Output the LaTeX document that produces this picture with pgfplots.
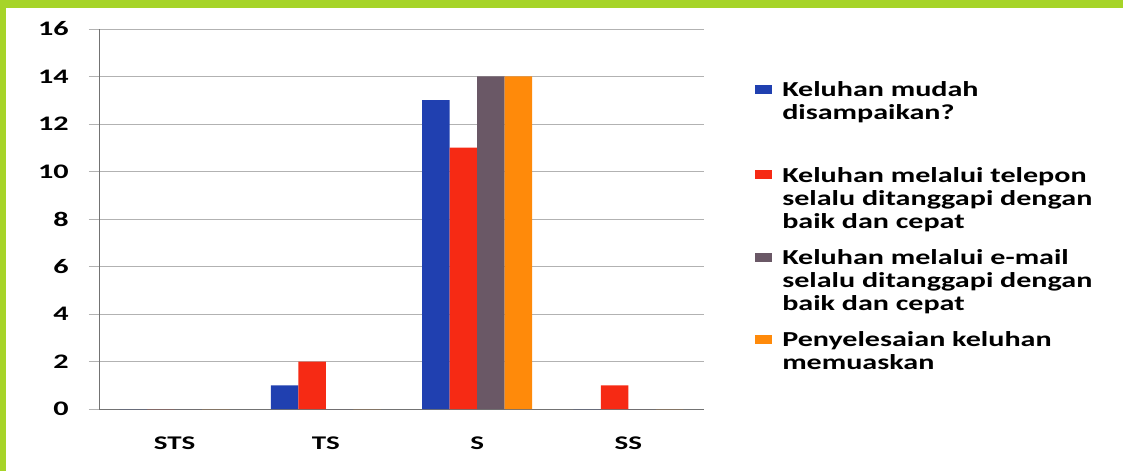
\documentclass[border=0pt]{standalone}
\usepackage{pgfplots}
\pgfplotsset{compat=1.18}
\usepackage{fontspec}
\setmainfont{Carlito}[FakeStretch=1.41]
\newfontfamily\yfont{Carlito}[FakeStretch=1.46]
\newfontfamily\xfont{Carlito}[FakeStretch=1.5]

\definecolor{frame}{RGB}{166,212,40}
\definecolor{cblue}{RGB}{32,64,176}
\definecolor{cred}{RGB}{246,42,20}
\definecolor{cgrey}{RGB}{106,88,102}
\definecolor{corange}{RGB}{255,138,10}
\definecolor{gridc}{RGB}{178,178,178}

\begin{document}
\begin{tikzpicture}
  % page: green frame with a white panel
  \useasboundingbox (0,0) rectangle (842.25pt,353.25pt);
  \fill[frame] (0,0) rectangle (842.25pt,353.25pt);
  \fill[white] (4.5pt,0pt) rectangle (842.25pt,347.25pt);

  \begin{axis}[
    at={(74.25pt,46.5pt)}, anchor=south west,
    scale only axis,
    width=453.75pt, height=285pt,
    ybar=0pt, bar width=20.6pt,
    xmin=-0.5, xmax=3.5,
    ymin=0, ymax=16,
    xtick={0,1,2,3},
    xticklabels={STS,TS,S,SS},
    minor xtick={-0.5,0.5,1.5,2.5,3.5},
    ytick={0,2,...,16},
    axis lines*=left,
    axis line style={black!55, line width=0.7pt},
    ymajorgrids,
    major grid style={gridc, line width=0.6pt},
    tick align=outside,
    xtick style={draw=none},
    minor x tick style={black!55, line width=0.7pt},
    minor tick length=4.5pt,
    ytick style={gridc, line width=0.6pt},
    major tick length=7.5pt,
    /pgf/number format/assume math mode=true,
    yticklabel style={font=\yfont\bfseries\fontsize{15.5}{18}\selectfont,
      anchor=east, inner sep=0pt, xshift=-15pt},
    xticklabel style={font=\xfont\bfseries\fontsize{14.5}{16}\selectfont,
      anchor=north, inner sep=0pt, yshift=-13pt},
    legend cell align=left,
    legend style={
      at={(1.0843,0.8634)}, anchor=north west,
      draw=none, fill=none, inner sep=0pt,
      nodes={inner sep=0pt},
      cells={align=left, anchor=north west},
      column sep=7.5pt, row sep=14.2pt,
      font=\bfseries\fontsize{16}{17.25}\selectfont,
    },
    legend image code/.code={
      \fill[#1] (0pt,-9.3pt) rectangle (12.75pt,-2.6pt);
    },
  ]
    \addplot[fill=cblue, draw=none]   coordinates {(0,0) (1,1) (2,13) (3,0)};
    \addlegendentry{Keluhan mudah\\disampaikan?\\[2.7pt]}
    \addplot[fill=cred, draw=none]    coordinates {(0,0) (1,2) (2,11) (3,1)};
    \addlegendentry{Keluhan melalui telepon\\selalu ditanggapi dengan\\baik dan cepat}
    \addplot[fill=cgrey, draw=none]   coordinates {(0,0) (1,0) (2,14) (3,0)};
    \addlegendentry{Keluhan melalui e-mail\\selalu ditanggapi dengan\\baik dan cepat}
    \addplot[fill=corange, draw=none] coordinates {(0,0) (1,0) (2,14) (3,0)};
    \addlegendentry{Penyelesaian keluhan\\memuaskan}
  \end{axis}
\end{tikzpicture}
\end{document}
